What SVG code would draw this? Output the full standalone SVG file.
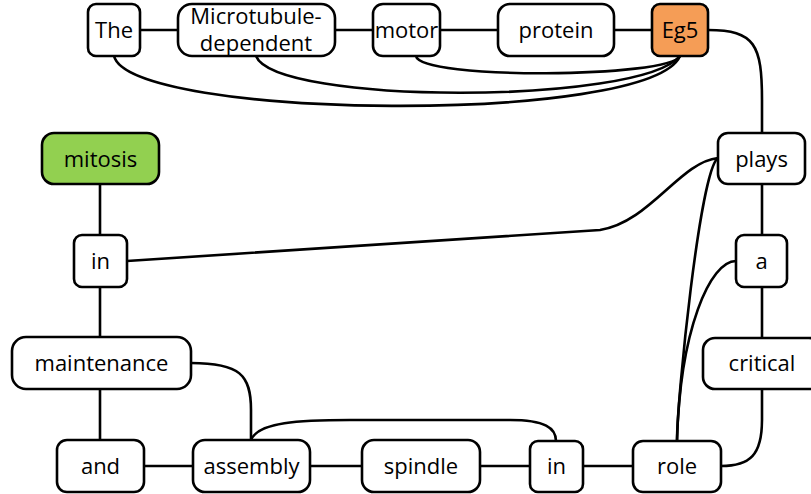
<svg xmlns="http://www.w3.org/2000/svg" width="811" height="494" viewBox="0 0 811 494">
<style>
.n rect{fill:#fff;stroke:#000;stroke-width:2.6}
.n text{font-family:"Open Sans","Liberation Sans",sans-serif;font-size:22px;fill:#000;text-anchor:middle}
#edges path{fill:none;stroke:#000;stroke-width:2.6}
</style>
<rect width="811" height="494" fill="#fff"/>
<g id="edges">
<path d="M140,30 L178,30 M335,30 L373,30 M440,30 L498,30 M614,30 L652,30"/>
<path d="M114,56 C130,120 650,125 680,56"/>
<path d="M256,56 C275,105 640,105 680,56"/>
<path d="M416,56 C420,80 670,78 680,56"/>
<path d="M708,30 C755,30 762,45 762,100 L762,133"/>
<path d="M762,184 L762,235 M762,287 L762,338"/>
<path d="M762,389 L762,420 C762,455 750,466 721,466"/>
<path d="M127,261 L600,230 C650,222 680,162 718,158"/>
<path d="M718,158 C700,170 677,400 677,441"/>
<path d="M736,261 C710,261 680,330 677,441"/>
<path d="M100,184 L100,235 M100,287 L100,337 M100,389 L100,440"/>
<path d="M191,363 C240,363 251,375 251,410 L251,440"/>
<path d="M144,466 L193,466 M310,466 L362,466 M480,466 L530,466 M583,466 L633,466"/>
<path d="M251,440 C258,422 300,420 350,420 L510,420 C545,420 556,428 556,441"/>
</g>
<g id="n-the" class="n"><rect x="88" y="4" width="52" height="52" rx="8"/><text x="114" y="38">The</text></g>
<g id="n-micro" class="n"><rect x="178" y="4" width="157" height="52" rx="14"/><text x="256" y="24">Microtubule-</text><text x="256" y="51">dependent</text></g>
<g id="n-motor" class="n"><rect x="373" y="4" width="67" height="52" rx="10"/><text x="406.5" y="38">motor</text></g>
<g id="n-protein" class="n"><rect x="498" y="4" width="116" height="52" rx="12"/><text x="556" y="38">protein</text></g>
<g id="n-eg5" class="n"><rect x="652" y="4" width="56" height="52" rx="8" style="fill:#F59D56"/><text x="680" y="38">Eg5</text></g>
<g id="n-mitosis" class="n"><rect x="42" y="133" width="117" height="51" rx="12" style="fill:#92D050"/><text x="100.5" y="167">mitosis</text></g>
<g id="n-in1" class="n"><rect x="74" y="235" width="53" height="52" rx="8"/><text x="100.5" y="269">in</text></g>
<g id="n-maint" class="n"><rect x="12" y="337" width="179" height="52" rx="14"/><text x="101.5" y="371">maintenance</text></g>
<g id="n-and" class="n"><rect x="57" y="440" width="87" height="52" rx="10"/><text x="100.5" y="474">and</text></g>
<g id="n-assembly" class="n"><rect x="193" y="440" width="117" height="52" rx="12"/><text x="251.5" y="474">assembly</text></g>
<g id="n-spindle" class="n"><rect x="362" y="440" width="118" height="52" rx="12"/><text x="421" y="474">spindle</text></g>
<g id="n-in2" class="n"><rect x="530" y="441" width="53" height="51" rx="8"/><text x="556.5" y="474">in</text></g>
<g id="n-role" class="n"><rect x="633" y="441" width="88" height="51" rx="10"/><text x="677" y="474">role</text></g>
<g id="n-critical" class="n"><rect x="703" y="338" width="118" height="51" rx="12"/><text x="762" y="371">critical</text></g>
<g id="n-a" class="n"><rect x="736" y="235" width="51" height="52" rx="8"/><text x="761.5" y="269">a</text></g>
<g id="n-plays" class="n"><rect x="718" y="133" width="87" height="51" rx="10"/><text x="761.5" y="167">plays</text></g>
</svg>
